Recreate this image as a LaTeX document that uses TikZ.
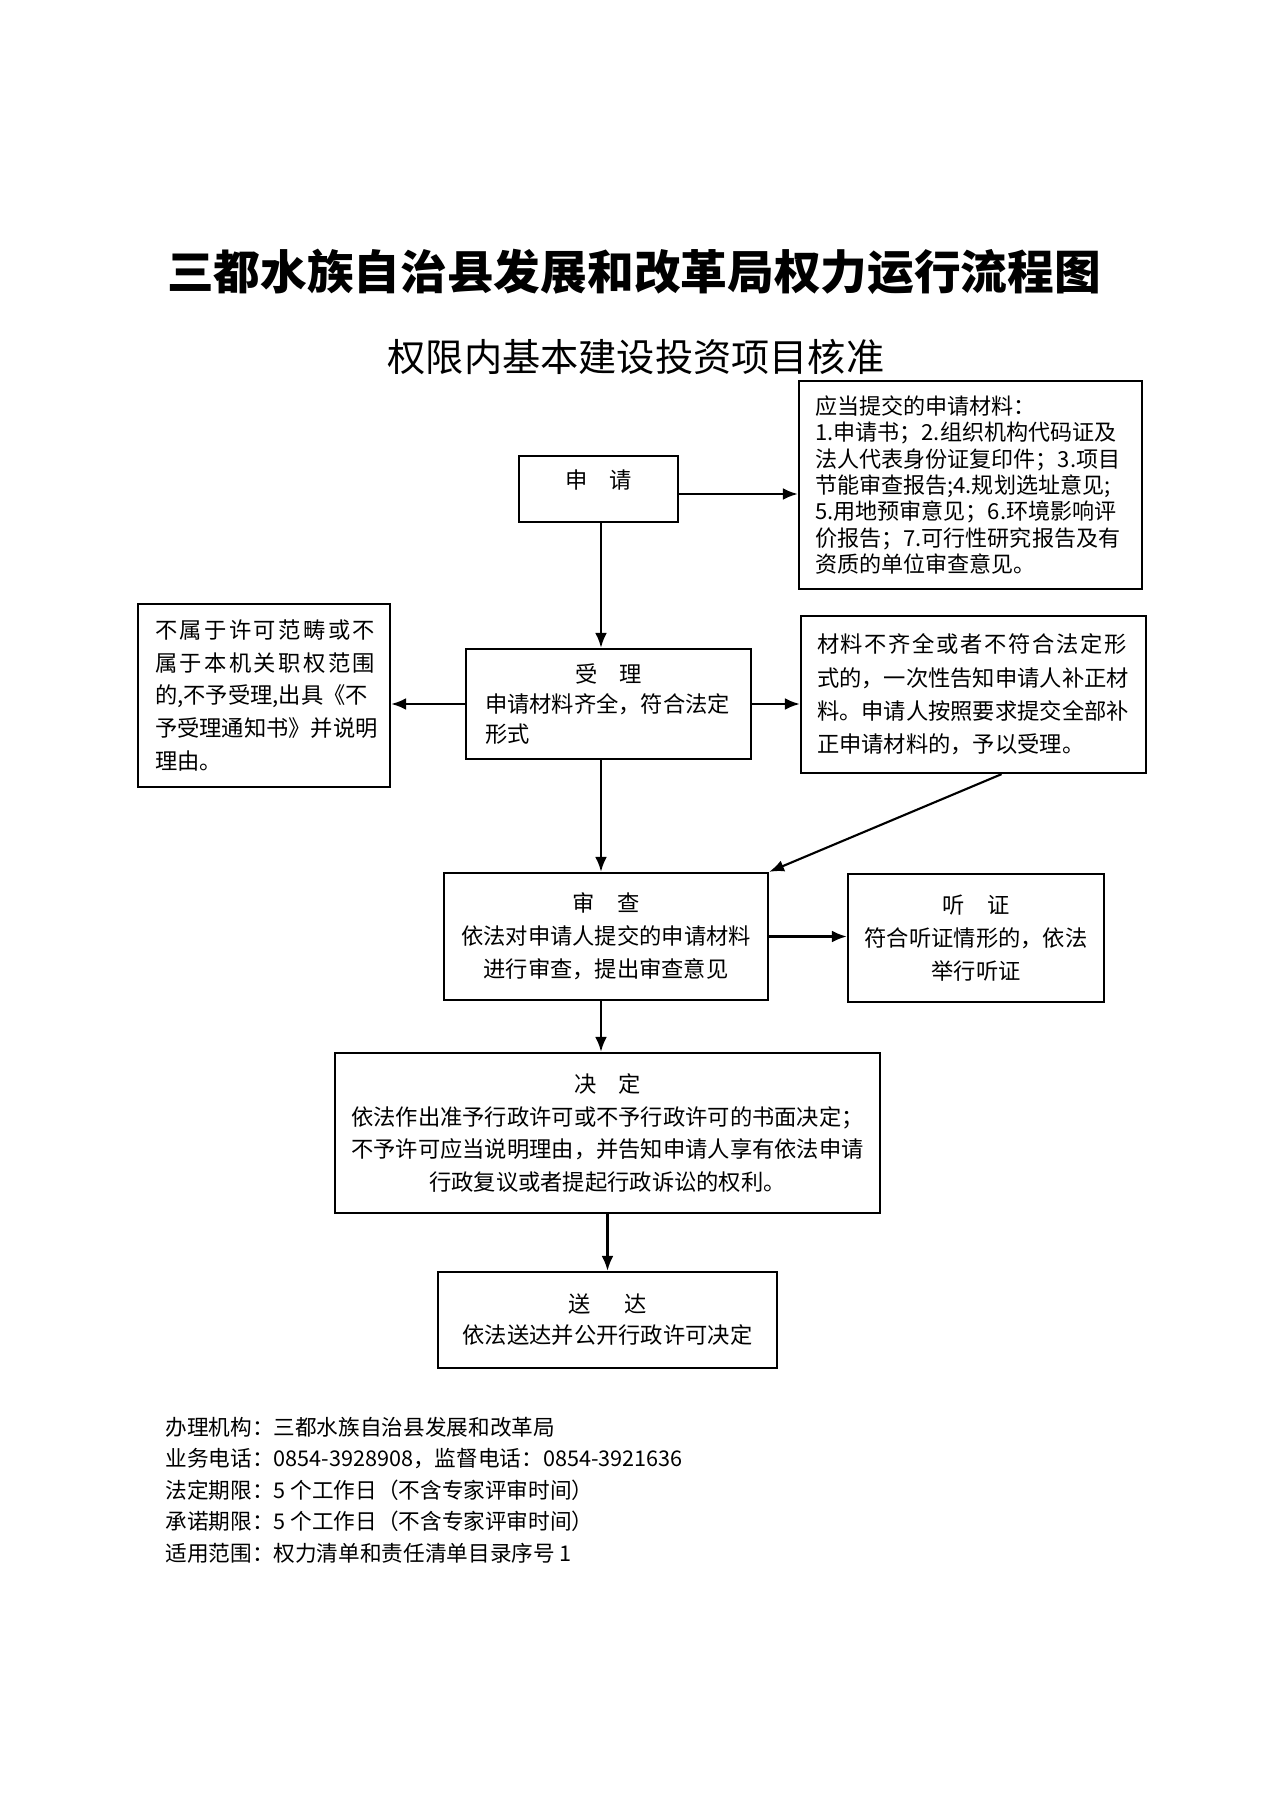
\documentclass[tikz,border=0pt]{standalone}
\usepackage{fontspec}
\setmainfont{Noto Sans CJK SC}
\usetikzlibrary{arrows.meta}

% one unit = one pixel of the A4 page
\newlength\pxu
\setlength\pxu{0.165615mm}

\begin{document}
\begin{tikzpicture}[
    x=0.165615mm, y=-0.165615mm,
    box/.style={rectangle, draw=black, line width=1.1pt, inner ysep=0pt, font=\fontsize{10.5}{15.5}\selectfont},
    arrow/.style={->, >={Latex[length=7pt,width=5.5pt]}, line width=1pt},
    heading/.style={inner sep=0pt},
]
\useasboundingbox (0,0) rectangle (1268,1793);

% titles
\node[heading, font=\fontsize{22}{26}\selectfont\bfseries] (title) at (634,272) {三都水族自治县发展和改革局权力运行流程图};
\node[heading, font=\fontsize{18}{22}\selectfont] (subtitle) at (636,357) {权限内基本建设投资项目核准};

% main steps
\node[box, minimum width=159\pxu, minimum height=66\pxu, inner xsep=0pt, text width=159\pxu, text depth=9pt, align=center] (shenqing) at (598.5,489) {申\quad 请};
\node[box, minimum width=285\pxu, minimum height=110\pxu, inner xsep=19\pxu, text width=247\pxu, align=left, font=\fontsize{10.5}{14.3}\selectfont] (shouli) at (608.5,704) {\makebox[247\pxu]{受\quad 理}\\申请材料齐全，符合法定\\形式};
\node[box, minimum width=324\pxu, minimum height=127\pxu, inner xsep=0pt, text width=324\pxu, align=center] (shencha) at (606,936.5) {审\quad 查\\依法对申请人提交的申请材料\\进行审查，提出审查意见};
\node[box, minimum width=545\pxu, minimum height=160\pxu, inner xsep=0pt, text width=545\pxu, align=center] (jueding) at (607.5,1133) {决\quad 定\\依法作出准予行政许可或不予行政许可的书面决定；\\不予许可应当说明理由，并告知申请人享有依法申请\\行政复议或者提起行政诉讼的权利。};
\node[box, minimum width=339\pxu, minimum height=96\pxu, inner xsep=0pt, text width=339\pxu, align=center, font=\fontsize{10.5}{14.6}\selectfont] (songda) at (607.5,1320) {送\hspace{1.5em}达\\依法送达并公开行政许可决定};

% side boxes
\node[box, minimum width=343\pxu, minimum height=208\pxu, inner xsep=16\pxu, text width=311\pxu, align=left, font=\fontsize{10.4}{12.4}\selectfont] (cailiao) at (970.5,485) {应当提交的申请材料：\\1.申请书；2.组织机构代码证及\\法人代表身份证复印件；3.项目\\节能审查报告;4.规划选址意见;\\5.用地预审意见；6.环境影响评\\价报告；7.可行性研究报告及有\\资质的单位审查意见。};
\node[box, minimum width=252\pxu, minimum height=183\pxu, inner xsep=17\pxu, text width=218\pxu, align=left] (buyu) at (264,695.5) {{\addfontfeature{LetterSpace=11}不属于许可范畴或不}\\{\addfontfeature{LetterSpace=11}属于本机关职权范围}\\的,不予受理,出具《不\\予受理通知书》并说明\\理由。};
\node[box, minimum width=345\pxu, minimum height=157\pxu, inner xsep=16\pxu, text width=313\pxu, align=left, font=\fontsize{10.5}{15.7}\selectfont] (buzheng) at (973.5,694.5) {{\addfontfeature{LetterSpace=7.5}材料不齐全或者不符合法定形}\\式的，一次性告知申请人补正材\\料。申请人按照要求提交全部补\\正申请材料的，予以受理。};
\node[box, minimum width=256\pxu, minimum height=128\pxu, inner xsep=0pt, text width=256\pxu, align=center] (tingzheng) at (976,938) {听\quad 证\\符合听证情形的，依法\\举行听证};

% arrows
\coordinate (spine) at (601,0);
\draw[arrow] ([yshift=-5\pxu]shenqing.east) -- ([yshift=-5\pxu]shenqing.east -| cailiao.west);
\draw[arrow] (spine |- shenqing.south) -- (spine |- shouli.north);
\draw[arrow] (shouli.west) -- (shouli.west -| buyu.east);
\draw[arrow] (shouli.east) -- (shouli.east -| buzheng.west);
\draw[arrow] (spine |- shouli.south) -- (spine |- shencha.north);
\draw[arrow] ([xshift=28\pxu]buzheng.south) -- (shencha.north east);
\draw[arrow] (shencha.east) -- (shencha.east -| tingzheng.west);
\draw[arrow] (spine |- shencha.south) -- (spine |- jueding.north);
\draw[arrow] (jueding.south) -- (songda.north);

% footer
\node[heading, anchor=west, align=left, font=\fontsize{10.2}{14.8}\selectfont] (footer) at (165,1490) {办理机构：三都水族自治县发展和改革局\\业务电话：0854-3928908，监督电话：0854-3921636\\法定期限：5 个工作日（不含专家评审时间）\\承诺期限：5 个工作日（不含专家评审时间）\\适用范围：权力清单和责任清单目录序号 1};
\end{tikzpicture}
\end{document}
